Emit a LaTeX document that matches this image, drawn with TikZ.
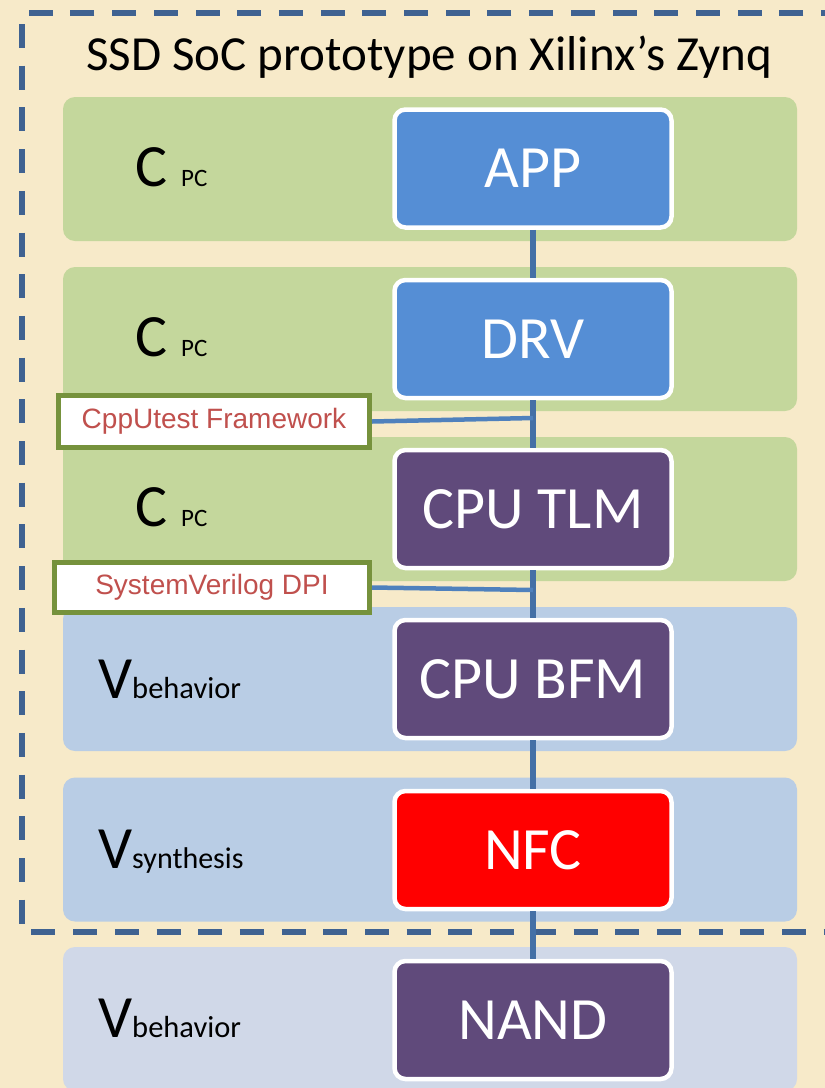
\documentclass[tikz,border=0pt]{standalone}
\usepackage{fontspec}
\setmainfont{Carlito}
\newfontfamily\tagfont{Liberation Sans}

\definecolor{paper}{HTML}{F7EAC9}
\definecolor{greenband}{HTML}{C4D79C}
\definecolor{blueband}{HTML}{B9CDE5}
\definecolor{greyband}{HTML}{D0D8E8}
\definecolor{appblue}{HTML}{558ED5}
\definecolor{cpupurple}{HTML}{604A7B}
\definecolor{nfcred}{HTML}{FF0000}
\definecolor{framecol}{HTML}{3F6291}
\definecolor{linkblue}{HTML}{4470A6}
\definecolor{tapblue}{HTML}{4F81BD}
\definecolor{tagolive}{HTML}{76923C}
\definecolor{tagred}{HTML}{C0504D}

\begin{document}
\begin{tikzpicture}[x=1pt,y=-1pt,
  band/.style={rounded corners=12pt, inner sep=0pt, minimum width=734pt, minimum height=144pt},
  block/.style={draw=white, line width=4.5pt, rounded corners=11pt, minimum width=277pt,
                minimum height=118pt, text=white, inner sep=0pt,
                font=\fontsize{60}{62}\selectfont},
  tagbox/.style={draw=tagolive, fill=white, line width=5pt, text=tagred, inner sep=0pt,
                 font=\tagfont\fontsize{28}{30}\selectfont},
  link/.style={draw=linkblue, line width=5.5pt},
  tapline/.style={draw=tapblue, line width=4.5pt},
  frame/.style={draw=framecol, line width=5.5pt, dash pattern=on 24pt off 17.7pt},
  layer/.style={anchor=base west, inner sep=0pt, font=\fontsize{60}{62}\selectfont}
]
% page and background
\fill[paper] (0,0) rectangle (825,1088);
\useasboundingbox (0,0) rectangle (825,1088);
\clip (0,0) rectangle (825,1088);

% layer bands
\node[band, fill=greenband] (b1) at (430,169) {};
\node[band, fill=greenband] (b2) at (430,339) {};
\node[band, fill=greenband] (b3) at (430,509) {};
\node[band, fill=blueband]  (b4) at (430,679) {};
\node[band, fill=blueband]  (b5) at (430,849.5) {};
\node[band, fill=greyband]  (b6) at (430,1019) {};

% dashed prototype frame
\draw[frame] (845,13) -- (22,13) -- (22,932) -- (845,932);

% title
\node[anchor=base west, inner sep=0pt, font=\fontsize{49}{51}\selectfont] (title) at (86,70)
  {SSD SoC prototype on Xilinx’s Zynq};

% language labels
\node[layer] (l1) at (135,186) {C\hspace{14pt}{\fontsize{25}{26}\selectfont PC}};
\node[layer] (l2) at (135,356) {C\hspace{14pt}{\fontsize{25}{26}\selectfont PC}};
\node[layer] (l3) at (135,526) {C\hspace{14pt}{\fontsize{25}{26}\selectfont PC}};
\node[layer] (l4) at (98,698) {V{\fontsize{30.5}{32}\selectfont behavior}};
\node[layer] (l5) at (98,868) {V{\fontsize{30}{32}\selectfont synthesis}};
\node[layer] (l6) at (98,1037) {V{\fontsize{30.5}{32}\selectfont behavior}};

% component blocks
\node[block, fill=appblue]   (app)  at (533,168.5) {APP};
\node[block, fill=appblue]   (drv)  at (533,339)   {DRV};
\node[block, fill=cpupurple] (tlm)  at (533,509)   {CPU TLM};
\node[block, fill=cpupurple] (bfm)  at (533,679)   {CPU BFM};
\node[block, fill=nfcred]    (nfc)  at (533,850)   {NFC};
\node[block, fill=cpupurple] (nand) at (533,1020)  {NAND};

% vertical chain
\draw[link] (app.south) -- (drv.north);
\draw[link] (drv.south) -- (tlm.north);
\draw[link] (tlm.south) -- (bfm.north);
\draw[link] (bfm.south) -- (nfc.north);
\draw[link] (nfc.south) -- (nand.north);

% interface tags
\node[tagbox, minimum width=311pt, minimum height=52pt] (cpputest) at (214,421.5) {CppUtest Framework};
\node[tagbox, minimum width=315pt, minimum height=50pt] (dpi) at (212,587.5) {SystemVerilog DPI};
\coordinate (tap1) at (533,418);
\coordinate (tap2) at (533,590);
\draw[tapline] (cpputest.east) -- (tap1);
\draw[tapline] (dpi.east) -- (tap2);
\end{tikzpicture}
\end{document}
